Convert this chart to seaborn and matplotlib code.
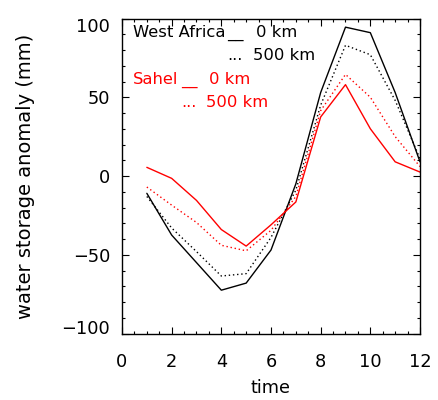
import numpy as np
import pandas as pd
import seaborn as sns
import matplotlib
matplotlib.use('Agg')
import matplotlib.pyplot as plt
from matplotlib.ticker import MultipleLocator
from matplotlib.transforms import ScaledTranslation

# monthly water storage anomaly (mm)
months = [1, 2, 3, 4, 5, 6, 7, 8, 9, 10, 11, 12]
west_africa_0km = [-11, -37.5, -55, -72.5, -68, -47, -5, 53, 94.5, 91, 53, 9]
west_africa_500km = [-13, -33, -48, -63.5, -62, -39, -9, 45, 83, 77, 48, 11]
sahel_0km = [5.5, -1.5, -15.5, -34, -44.5, -31, -16.5, 37.5, 58, 30, 9, 2.5]
sahel_500km = [-7, -18.5, -29.5, -44, -47.5, -34.5, -13, 41.5, 64.5, 50, 25, 6]

x_ticks = [0, 2, 4, 6, 8, 10, 12]
y_ticks = [-100, -50, 0, 50, 100]

sns.set_style('ticks')
plt.rcParams['font.family'] = ['DejaVu Sans']
plt.rcParams['text.color'] = 'black'
plt.rcParams['axes.labelcolor'] = 'black'

fig = plt.figure(figsize=(4.39, 4.0), dpi=100)
ax = fig.add_axes([122 / 439, 1 - 333.5 / 400, 298 / 439, (333.5 - 18.5) / 400])

dot = (0, (1, 2))
sns.lineplot(x=months, y=west_africa_0km, color='black', lw=1.0, ax=ax)
sns.lineplot(x=months, y=west_africa_500km, color='black', lw=1.0, linestyle=dot, ax=ax)
sns.lineplot(x=months, y=sahel_0km, color='red', lw=1.0, ax=ax)
sns.lineplot(x=months, y=sahel_500km, color='red', lw=1.0, linestyle=dot, ax=ax)

ax.set_xlim(0, 12)
ax.set_ylim(-100, 100)
ax.set_xticks(x_ticks)
ax.set_yticks(y_ticks)
ax.xaxis.set_minor_locator(MultipleLocator(0.5))
ax.yaxis.set_minor_locator(MultipleLocator(10))

for s in ax.spines.values():
    s.set_linewidth(1.0)
    s.set_color('black')

ax.tick_params(which='both', direction='in', top=True, right=True, color='black',
               labelcolor='black', width=0.8)
ax.tick_params(which='major', length=5)
ax.tick_params(which='minor', length=2.5)
ax.tick_params(axis='x', which='major', pad=14, labelsize=12.8)
ax.tick_params(axis='y', which='major', pad=8.5, labelsize=12.8)

# outermost y labels sit a bit inside the frame
fig.canvas.draw()
for lab in ax.get_yticklabels():
    v = lab.get_position()[1]
    if v == -100:
        lab.set_transform(lab.get_transform() + ScaledTranslation(0, 7 / 100, fig.dpi_scale_trans))
    elif v == 100:
        lab.set_transform(lab.get_transform() + ScaledTranslation(0, -7 / 100, fig.dpi_scale_trans))

ax.set_xlabel('time', fontsize=12.8, va='center')
ax.xaxis.set_label_coords(0.5, (333.5 - 388) / 315)
ax.set_ylabel('water storage anomaly (mm)', fontsize=14, va='center')
ax.yaxis.set_label_coords((25 - 122) / 298, 0.5)

# legend written as text, like the original
def fx(px):
    return (px - 122) / 298

def fy(py):
    return (333.5 - py) / 315

txt = dict(transform=ax.transAxes, fontsize=11.8, va='baseline', ha='left')
ax.text(fx(133), fy(37), 'West Africa', color='black', **txt)
ax.text(fx(227), fy(37), '__', color='black', **txt)
ax.text(fx(256), fy(37), '0 km', color='black', **txt)
ax.text(fx(227), fy(60), '...', color='black', **txt)
ax.text(fx(253), fy(60), '500 km', color='black', **txt)
ax.text(fx(133), fy(83.5), 'Sahel', color='red', **txt)
ax.text(fx(181), fy(83.5), '__', color='red', **txt)
ax.text(fx(209), fy(83.5), '0 km', color='red', **txt)
ax.text(fx(181), fy(107), '...', color='red', **txt)
ax.text(fx(206), fy(107), '500 km', color='red', **txt)

plt.savefig('out.png', dpi=100)
plt.close()
